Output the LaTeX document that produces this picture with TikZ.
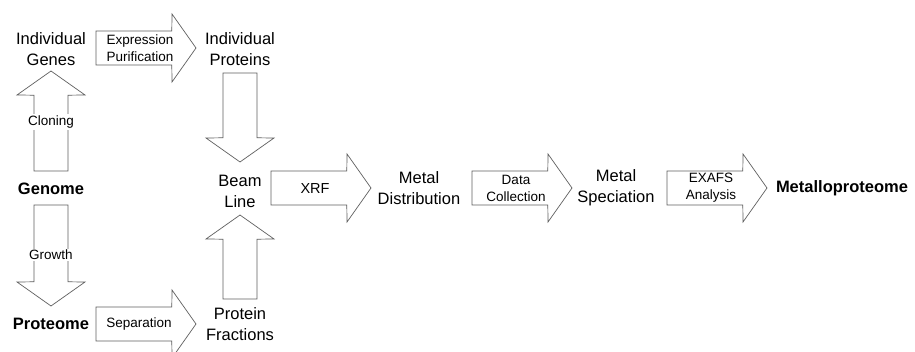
\documentclass[tikz,border=0pt]{standalone}
\usepackage{fontspec}
\setmainfont{Liberation Sans}
\usetikzlibrary{calc}
\definecolor{linegray}{RGB}{95,95,95}
\tikzset{
 fat/.style={draw=linegray, line width=0.7pt, fill=white, line join=miter,
  to path={($(\tikztostart)!17pt!90:(\tikztotarget)$) -- ($(\tikztotarget)!29.58pt!-35.1:(\tikztostart)$) -- ($(\tikztotarget)!41.62pt!-54.78:(\tikztostart)$) -- (\tikztotarget) -- ($(\tikztotarget)!41.62pt!54.78:(\tikztostart)$) -- ($(\tikztotarget)!29.58pt!35.1:(\tikztostart)$) -- ($(\tikztostart)!17pt!-90:(\tikztotarget)$) -- cycle}},
 big/.style={font=\fontsize{16.5}{21}\selectfont, align=center, inner sep=0pt},
 bigb/.style={font=\fontsize{16.5}{21}\selectfont\bfseries, align=center, inner sep=0pt},
 lab/.style={font=\fontsize{13.5}{17}\selectfont, align=center, inner sep=0pt},
 labw/.style={lab, fill=white, inner sep=1.5pt}
}
\begin{document}
\begin{tikzpicture}[x=1pt,y=-1pt]
\useasboundingbox (0,0) rectangle (915,352);
\clip (0,0) rectangle (915,352);
% arrow end points
\coordinate (e1s) at (96,48);   \coordinate (e1t) at (196,48);
\coordinate (c1s) at (51,171);  \coordinate (c1t) at (51,71);
\coordinate (g1s) at (51,205);  \coordinate (g1t) at (51,306);
\coordinate (s1s) at (96,324);  \coordinate (s1t) at (196,324);
\coordinate (p1s) at (240,73);  \coordinate (p1t) at (240,162);
\coordinate (f1s) at (240,299); \coordinate (f1t) at (240,215);
\coordinate (x1s) at (271,188); \coordinate (x1t) at (371,188);
\coordinate (d1s) at (472,188); \coordinate (d1t) at (572,188);
\coordinate (a1s) at (667,188); \coordinate (a1t) at (767,188);
% fat arrows
\draw[fat] (e1s) to (e1t);
\draw[fat] (c1s) to (c1t);
\draw[fat] (g1s) to (g1t);
\draw[fat] (s1s) to (s1t);
\draw[fat] (p1s) to (p1t);
\draw[fat] (f1s) to (f1t);
\draw[fat] (x1s) to (x1t);
\draw[fat] (d1s) to (d1t);
\draw[fat] (a1s) to (a1t);
% main labels
\node[big]  (genes)    at (51,49)   {Individual\\Genes};
\node[big]  (proteins) at (240,49)  {Individual\\Proteins};
\node[bigb] (genome)   at (51,189)  {Genome};
\node[bigb] (proteome) at (51,324)  {Proteome};
\node[big]  (beam)     at (240,191) {Beam\\Line};
\node[big]  (fract)    at (240,324) {Protein\\Fractions};
\node[big]  (dist)     at (419,188) {Metal\\Distribution};
\node[big]  (spec)     at (616,188) {Metal\\Speciation};
\node[bigb] (mp)       at (842,188) {Metalloproteome};
% arrow labels
\node[lab]  (expr)  at (140,48.5) {Expression\\Purification};
\node[labw] (clon)  at (51,122)   {Cloning};
\node[labw] (grow)  at (51,255)   {Growth};
\node[lab]  (sep)   at (139,324)  {Separation};
\node[lab, font=\fontsize{14.5}{17}\selectfont] (xrf) at (315,188.5) {XRF};
\node[lab]  (data)  at (516,188)  {Data\\Collection};
\node[lab]  (exafs) at (711,188)  {EXAFS\\Analysis};
\end{tikzpicture}
\end{document}
